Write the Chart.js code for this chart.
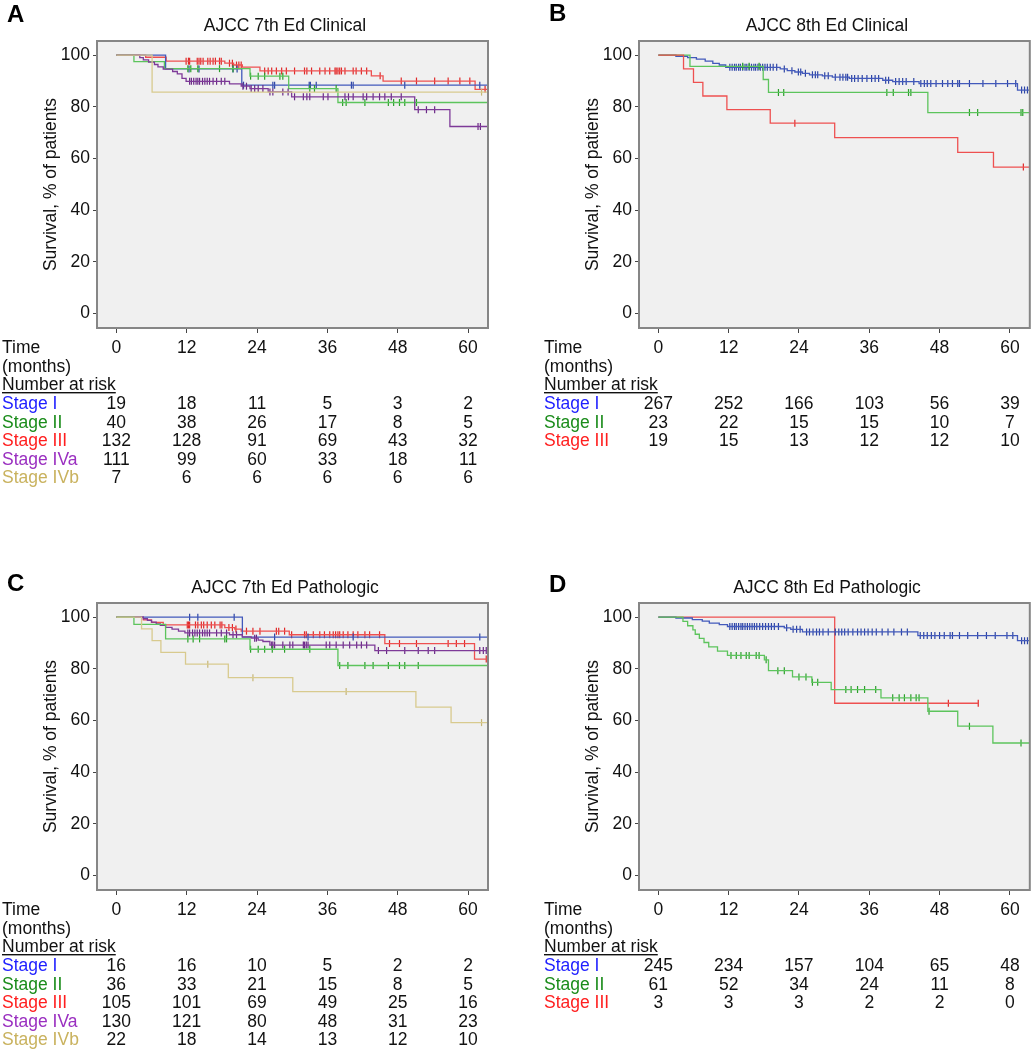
<!DOCTYPE html>
<html>
<head>
<meta charset="utf-8">
<script src="https://cdn.jsdelivr.net/npm/chart.js@4.4.1/dist/chart.umd.min.js"></script>
<style>
  html, body { margin: 0; padding: 0; background: #fff; overflow: hidden; }
  canvas { position: absolute; }
</style>
</head>
<body>
<canvas id="chartA" width="500" height="500" style="left:0;top:0"></canvas>
<canvas id="chartB" width="493" height="500" style="left:542px;top:0"></canvas>
<canvas id="chartC" width="500" height="488" style="left:0;top:562px"></canvas>
<canvas id="chartD" width="493" height="488" style="left:542px;top:562px"></canvas>
<script>
// Axis ticks
const timeTicks = [0, 12, 24, 36, 48, 60];
const survTicks = [0, 20, 40, 60, 80, 100];

// A - AJCC 7th Ed Clinical  ([month, survival %] after each step)
const aStageISteps = [[0,100],[8.4,94.7],[21.4,88.4],[64,88.4]];
const aStageICens = [12.4,14.1,19.9,20.6,21.7,26.7,27.0,32.9,33.1,34.1,40.1,40.4,49.2,62.0];
const aStageIISteps = [[0,100],[3.0,97.5],[8.2,94.8],[22.8,91.9],[29.4,87.1],[37.8,81.7],[64,81.7]];
const aStageIICens = [12.2,12.7,13.9,17.6,19.9,22.9,24.2,25.3,27.9,28.4,33.0,33.8,37.5,38.6,39.2,42.4,46.4,47.3,48.3,49.2,51.2];
const aStageIIISteps = [[0,100],[5.0,99.2],[8.5,97.7],[18.5,96.9],[20.0,96.2],[21.5,95.4],[24.5,93.9],[43.5,92.0],[45.5,90.0],[61.2,86.8],[64,86.8]];
const aStageIIICens = [11.9,12.3,12.5,13.8,14.1,14.4,14.8,15.6,16.0,16.5,16.9,17.6,17.9,19.3,19.8,20.5,20.9,21.3,25.3,25.9,26.5,27.3,28.2,29.0,30.4,32.1,32.5,33.3,34.7,35.6,36.4,37.3,37.5,37.8,38.1,38.4,39.0,40.4,40.9,41.8,42.7,45.0,48.6,51.2,54.3,56.6,58.6,60.3,62.9];
const aStageIVaSteps = [[0,100],[4.0,99.1],[4.6,98.2],[5.5,97.3],[6.5,96.4],[7.1,95.5],[8.0,94.6],[9.6,93.7],[10.4,92.8],[11.2,91.0],[11.9,89.9],[19.3,88.9],[21.3,88.0],[22.8,87.1],[25.9,85.8],[29.9,83.9],[50.9,78.9],[56.9,72.4],[64,72.4]];
const aStageIVaCens = [12.5,12.8,13.2,13.6,13.9,14.2,14.7,15.1,15.5,15.9,16.5,17.1,17.9,18.5,21.6,22.2,23.0,23.6,24.2,25.0,26.2,26.7,28.4,29.3,30.4,31.9,32.5,33.0,35.3,36.1,39.0,39.6,40.4,42.1,42.7,43.8,44.9,45.8,46.9,48.6,51.5,52.9,54.3,61.7,62.1];
const aStageIVbSteps = [[0,100],[6.1,85.7],[64,85.7]];
const aStageIVbCens = [62.3];
const aRiskI = [19, 18, 11, 5, 3, 2];
const aRiskII = [40, 38, 26, 17, 8, 5];
const aRiskIII = [132, 128, 91, 69, 43, 32];
const aRiskIVa = [111, 99, 60, 33, 18, 11];
const aRiskIVb = [7, 6, 6, 6, 6, 6];

// B - AJCC 8th Ed Clinical
const bStageISteps = [[0,100],[3.0,99.6],[5.0,99.1],[6.5,98.5],[8.0,97.7],[9.3,96.8],[10.4,96.2],[11.5,95.3],[20.8,94.7],[22.0,94.0],[23.3,93.5],[24.6,93.0],[25.8,92.4],[28.0,92.0],[29.7,91.5],[32.6,91.0],[38.3,90.3],[40.0,89.8],[44.5,89.0],[61.3,86.5],[64,86.5]];
const bStageICens = [12.2,12.6,13.0,13.3,13.7,14.0,14.4,14.8,15.1,15.5,15.9,16.3,16.6,17.0,17.4,17.8,18.2,18.6,19.1,19.6,20.2,21.5,22.8,23.9,24.3,25.1,26.3,26.8,27.2,28.4,29.0,30.2,31.0,31.5,32.0,32.3,33.0,33.5,34.1,34.8,35.6,36.4,37.0,37.6,38.8,39.3,40.5,41.1,41.7,42.3,43.6,44.8,45.4,45.9,46.5,47.4,48.5,49.4,50.2,51.1,51.4,53.1,55.4,57.6,59.6,61.0,62.0,62.5,63.0];
const bStageIISteps = [[0,100],[5.4,95.7],[17.9,90.6],[18.8,85.6],[46.0,77.8],[64,77.8]];
const bStageIICens = [14.4,15.5,17.2,20.5,21.4,39.0,40.1,42.7,43.1,53.1,54.5,61.9,62.2];
const bStageIIISteps = [[0,100],[4.3,94.7],[6.0,89.5],[7.6,84.2],[11.7,78.9],[19.1,73.7],[30.1,68.1],[51.1,62.4],[57.2,56.7],[64,56.7]];
const bStageIIICens = [23.3, 62.3];
const bRiskI = [267, 252, 166, 103, 56, 39];
const bRiskII = [23, 22, 15, 15, 10, 7];
const bRiskIII = [19, 15, 13, 12, 12, 10];

// C - AJCC 7th Ed Pathologic
const cStageISteps = [[0,100],[21.5,92.3],[64,92.3]];
const cStageICens = [12.5,13.9,20.1,27.0,32.7,40.4,62.0];
const cStageIISteps = [[0,100],[3.0,97.2],[8.4,91.6],[22.8,87.6],[37.8,81.3],[64,81.3]];
const cStageIICens = [12.2,13.1,14.2,18.5,18.8,22.9,24.2,25.3,26.6,28.7,33.0,38.1,39.5,42.4,43.8,46.4,48.3,49.2,51.5];
const cStageIIISteps = [[0,100],[4.6,99.0],[6.0,98.0],[8.0,97.0],[18.5,96.0],[20.2,95.4],[21.3,94.6],[29.5,93.2],[45.8,89.8],[61.1,83.8],[64,83.8]];
const cStageIIICens = [12.1,12.3,12.5,13.5,13.9,14.5,14.9,15.5,16.2,16.8,17.7,18.0,19.2,19.8,20.4,22.2,23.3,24.5,27.3,27.7,28.7,29.9,32.1,32.4,33.6,34.7,35.5,36.4,37.0,37.4,37.8,38.1,38.7,39.5,40.4,41.2,42.4,43.2,44.9,46.6,48.3,51.2,56.6,58.0,59.4,63.1];
const cStageIVaSteps = [[0,100],[4.6,99.4],[5.3,98.8],[6.0,98.1],[6.8,97.4],[7.5,96.8],[8.4,96.1],[9.5,95.4],[10.6,94.6],[11.7,93.9],[19.3,93.2],[21.5,92.4],[23.0,91.9],[24.2,91.1],[25.0,90.6],[26.2,89.2],[44.1,87.1],[64,87.1]];
const cStageIVaCens = [12.2,12.5,13.0,13.4,13.8,14.2,14.7,15.1,15.5,15.9,17.1,17.9,18.8,19.9,20.5,23.6,23.9,26.5,26.7,27.0,28.4,29.6,30.1,31.9,32.1,32.4,32.7,35.8,36.4,37.5,38.7,39.8,41.0,41.8,42.7,44.7,46.1,49.2,51.5,53.2,54.3,62.0,62.6,63.1];
const cStageIVbSteps = [[0,100],[4.3,95.5],[6.1,90.9],[7.6,86.4],[11.8,81.8],[19.1,76.6],[30.1,71.2],[51.1,65.2],[57.1,59.2],[64,59.2]];
const cStageIVbCens = [15.6, 23.3, 39.2, 62.3];
const cRiskI = [16, 16, 10, 5, 2, 2];
const cRiskII = [36, 33, 21, 15, 8, 5];
const cRiskIII = [105, 101, 69, 49, 25, 16];
const cRiskIVa = [130, 121, 80, 48, 31, 23];
const cRiskIVb = [22, 18, 14, 13, 12, 10];

// D - AJCC 8th Ed Pathologic
const dStageISteps = [[0,100],[3.0,99.7],[5.8,99.1],[7.5,98.5],[8.7,97.7],[10.4,97.1],[11.8,96.4],[21.5,95.9],[22.6,95.3],[24.6,94.3],[44.3,92.9],[61.3,90.9],[64,90.9]];
const dStageICens = [12.2,12.6,13.0,13.3,13.7,14.1,14.4,14.8,15.2,15.6,16.0,16.4,16.8,17.3,17.8,18.3,18.8,19.3,19.8,20.5,21.9,23.0,23.6,24.2,25.3,25.8,26.4,27.0,27.5,28.1,29.0,30.2,30.8,31.3,31.8,32.4,33.2,34.0,34.6,35.2,35.8,36.5,37.2,38.2,39.2,40.2,41.5,42.5,44.7,45.3,45.9,46.6,47.2,48.0,48.8,49.8,50.2,51.4,52.8,54.5,56.0,57.5,59.5,60.5,62.0,62.5,63.0];
const dStageIISteps = [[0,100],[4.2,98.4],[5.0,96.7],[5.9,95.1],[6.3,93.4],[7.0,91.8],[7.8,90.2],[8.6,88.5],[10.1,86.9],[11.8,85.2],[18.1,83.5],[18.8,79.3],[22.9,76.9],[26.2,74.8],[29.5,72.0],[38.0,68.8],[46.0,63.6],[51.1,57.8],[57.1,51.3],[64,51.3]];
const dStageIICens = [12.4,13.3,14.1,15.0,15.5,16.7,17.2,18.4,20.4,21.5,24.0,25.2,26.3,27.2,32.0,32.9,34.0,35.2,37.1,40.0,41.1,42.0,43.1,44.0,44.5,46.2,53.1,61.9];
const dStageIIISteps = [[0,100],[30.1,66.7],[54.6,66.7]];
const dStageIIICens = [49.5, 54.6];
const dRiskI = [245, 234, 157, 104, 65, 48];
const dRiskII = [61, 52, 34, 24, 11, 8];
const dRiskIII = [3, 3, 3, 2, 2, 0];

const FONT = "'Liberation Sans', Arial, sans-serif";
const STAGE = {
  I:   { name: 'Stage I',   line: '#4259bb', mark: '#2d45a6', text: '#1e1eff' },
  II:  { name: 'Stage II',  line: '#5cc45c', mark: '#2aa02a', text: '#1b8c1b' },
  III: { name: 'Stage III', line: '#ee5050', mark: '#e02828', text: '#ff1f1f' },
  IVa: { name: 'Stage IVa', line: '#7e3a98', mark: '#6a2886', text: '#9a2fc0' },
  IVb: { name: 'Stage IVb', line: '#d8ca8e', mark: '#c6b676', text: '#c9b25e' }
};

function levelAt(steps, t) {
  let s = steps[0][1];
  steps.forEach(([x, y]) => { if (x <= t) s = y; });
  return s;
}

function kmSets(steps, cens, st) {
  return [
    {
      data: steps.map(([x, y]) => ({ x, y })),
      borderColor: st.line, borderWidth: 1.3,
      stepped: 'before', pointRadius: 0, fill: false
    },
    {
      data: cens.map(t => ({ x: t, y: levelAt(steps, t) })),
      showLine: false, pointStyle: 'line', pointRotation: 90,
      pointRadius: 3.5, pointBorderColor: st.mark, pointBorderWidth: 1.2
    }
  ];
}

// Plot background/frame, panel letter, title and number-at-risk table
const kmDecor = {
  id: 'kmDecor',
  beforeDraw(chart) {
    const { ctx, chartArea: a } = chart;
    ctx.save();
    ctx.fillStyle = '#f0f0f0';
    ctx.fillRect(a.left, a.top, a.right - a.left, a.bottom - a.top);
    ctx.restore();
  },
  afterDraw(chart, args, opts) {
    const { ctx, chartArea: a } = chart;
    const xs = chart.scales.x;
    ctx.save();
    ctx.strokeStyle = '#868686';
    ctx.lineWidth = 2;
    ctx.strokeRect(a.left, a.top, a.right - a.left, a.bottom - a.top);

    ctx.fillStyle = '#000';
    ctx.font = 'bold 24px ' + FONT;
    ctx.textAlign = 'left';
    ctx.textBaseline = 'alphabetic';
    ctx.fillText(opts.letter, 7, opts.letterY);

    ctx.font = '17.5px ' + FONT;
    ctx.textBaseline = 'middle';
    ctx.textAlign = 'center';
    ctx.fillStyle = '#111';
    ctx.fillText(opts.title, 285, 26);

    ctx.textAlign = 'left';
    ctx.fillText('Time', 2, 348.5);
    ctx.fillText('(months)', 2, 367);
    ctx.fillText('Number at risk', 2, 385.5);
    const w = ctx.measureText('Number at risk').width;
    ctx.fillRect(2, 392, w, 1.4);

    opts.rows.forEach((row, i) => {
      const y = 404.5 + i * 18.4;
      ctx.textAlign = 'left';
      ctx.fillStyle = row.st.text;
      ctx.fillText(row.st.name, 2, y);
      ctx.textAlign = 'center';
      ctx.fillStyle = '#111';
      row.values.forEach((v, j) => ctx.fillText(String(v), xs.getPixelForValue(timeTicks[j]), y));
    });
    ctx.restore();
  }
};

function makeChart(id, letter, letterY, title, series, rows) {
  const canvas = document.getElementById(id);
  const W = canvas.width, H = canvas.height;
  const datasets = [];
  series.forEach(s => datasets.push(...kmSets(s[0], s[1], s[2])));
  new Chart(canvas, {
    type: 'line',
    data: { datasets },
    plugins: [kmDecor],
    options: {
      responsive: false,
      animation: false,
      events: [],
      layout: { padding: { left: 0, top: 41, right: W - 488, bottom: 0 } },
      plugins: {
        legend: { display: false },
        tooltip: { enabled: false },
        kmDecor: { letter, letterY, title, rows }
      },
      scales: {
        x: {
          type: 'linear', min: -3.3, max: 63.4,
          afterBuildTicks: s => { s.ticks = timeTicks.map(v => ({ value: v })); },
          afterFit: s => { s.height = H - 328; },
          grid: { drawOnChartArea: false, drawTicks: true, tickLength: 5, color: '#444' },
          border: { display: false },
          ticks: { color: '#111', font: { family: FONT, size: 17.5 }, padding: 5, maxRotation: 0 }
        },
        y: {
          type: 'linear', min: -5.6, max: 105.5,
          afterBuildTicks: s => { s.ticks = survTicks.map(v => ({ value: v })); },
          afterFit: s => { s.width = 97; },
          grid: { drawOnChartArea: false, drawTicks: true, tickLength: 4, color: '#444' },
          border: { display: false },
          ticks: { color: '#111', font: { family: FONT, size: 17.5 }, padding: 3 },
          title: {
            display: true, text: 'Survival, % of patients', color: '#111',
            font: { family: FONT, size: 17.5 }, padding: { top: 41, bottom: 0 }
          }
        }
      }
    }
  });
}

makeChart('chartA', 'A', 22, 'AJCC 7th Ed Clinical', [
  [aStageIVbSteps, aStageIVbCens, STAGE.IVb],
  [aStageIVaSteps, aStageIVaCens, STAGE.IVa],
  [aStageIISteps, aStageIICens, STAGE.II],
  [aStageISteps, aStageICens, STAGE.I],
  [aStageIIISteps, aStageIIICens, STAGE.III]
], [
  { st: STAGE.I, values: aRiskI },
  { st: STAGE.II, values: aRiskII },
  { st: STAGE.III, values: aRiskIII },
  { st: STAGE.IVa, values: aRiskIVa },
  { st: STAGE.IVb, values: aRiskIVb }
]);

makeChart('chartB', 'B', 21, 'AJCC 8th Ed Clinical', [
  [bStageIIISteps, bStageIIICens, STAGE.III],
  [bStageIISteps, bStageIICens, STAGE.II],
  [bStageISteps, bStageICens, STAGE.I]
], [
  { st: STAGE.I, values: bRiskI },
  { st: STAGE.II, values: bRiskII },
  { st: STAGE.III, values: bRiskIII }
]);

makeChart('chartC', 'C', 29, 'AJCC 7th Ed Pathologic', [
  [cStageIVbSteps, cStageIVbCens, STAGE.IVb],
  [cStageIISteps, cStageIICens, STAGE.II],
  [cStageIVaSteps, cStageIVaCens, STAGE.IVa],
  [cStageISteps, cStageICens, STAGE.I],
  [cStageIIISteps, cStageIIICens, STAGE.III]
], [
  { st: STAGE.I, values: cRiskI },
  { st: STAGE.II, values: cRiskII },
  { st: STAGE.III, values: cRiskIII },
  { st: STAGE.IVa, values: cRiskIVa },
  { st: STAGE.IVb, values: cRiskIVb }
]);

makeChart('chartD', 'D', 30, 'AJCC 8th Ed Pathologic', [
  [dStageIISteps, dStageIICens, STAGE.II],
  [dStageISteps, dStageICens, STAGE.I],
  [dStageIIISteps, dStageIIICens, STAGE.III]
], [
  { st: STAGE.I, values: dRiskI },
  { st: STAGE.II, values: dRiskII },
  { st: STAGE.III, values: dRiskIII }
]);
</script>
</body>
</html>
